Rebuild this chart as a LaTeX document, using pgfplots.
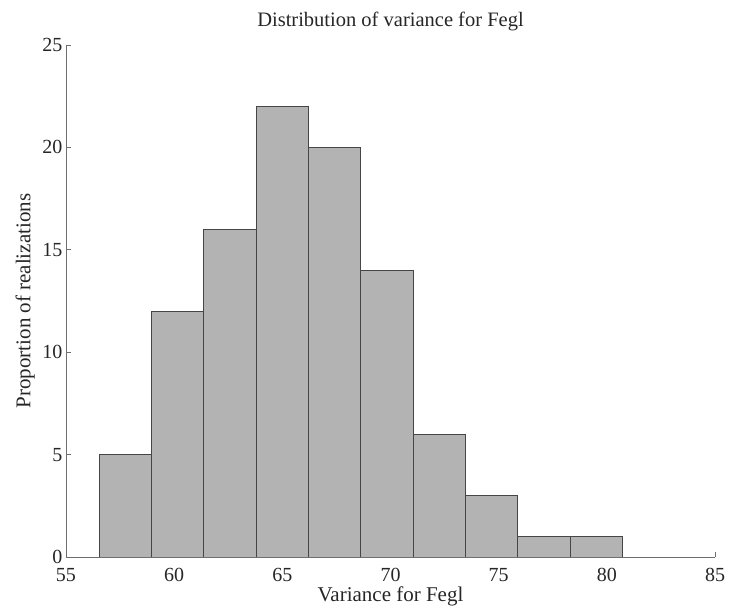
\documentclass[border=0pt]{standalone}
\usepackage{fontspec}
\setmainfont{Liberation Serif}
\usepackage{pgfplots}
\pgfplotsset{compat=1.18}
\definecolor{barfill}{RGB}{179,179,179}
\definecolor{baredge}{RGB}{70,70,70}
\definecolor{axisgray}{RGB}{110,110,110}
\begin{document}
\begin{tikzpicture}
\path[use as bounding box] (-66pt,-52pt) rectangle (663pt,557pt);
\begin{axis}[
  at={(0,0)}, anchor=south west,
  scale only axis, width=649pt, height=512pt,
  xmin=55, xmax=85, ymin=0, ymax=25,
  axis x line*=bottom, axis y line*=left,
  axis line style={axisgray, line width=0.9pt},
  tick align=inside,
  major tick length=5pt,
  tick style={axisgray, line width=0.9pt},
  xtick={55,60,...,85}, ytick={0,5,...,25},
  /pgf/number format/assume math mode=true,
  tick label style={font=\fontsize{20}{22}\selectfont, text=black!85},
  label style={font=\fontsize{21}{23}\selectfont, text=black!85},
  title style={font=\fontsize{20.5}{23}\selectfont, text=black!85,
    at={(axis description cs:0.5,1.034)}, anchor=center},
  title={Distribution of variance for Fegl},
  xlabel={Variance for Fegl},
  ylabel={Proportion of realizations},
  xlabel style={at={(axis description cs:0.5,-0.077)}, anchor=center},
  ylabel style={at={(axis description cs:-0.063,0.5)}, anchor=center, rotate=0},
  xticklabel style={yshift=-8pt},
  yticklabel style={xshift=0pt},
]
\addplot[ybar interval, fill=barfill, draw=baredge, line width=0.8pt]
  coordinates {
    (56.54,5) (58.96,12) (61.37,16) (63.79,22) (66.21,20)
    (68.63,14) (71.05,6) (73.47,3) (75.88,1) (78.30,1) (80.72,1)
  };
\end{axis}
\end{tikzpicture}
\end{document}
